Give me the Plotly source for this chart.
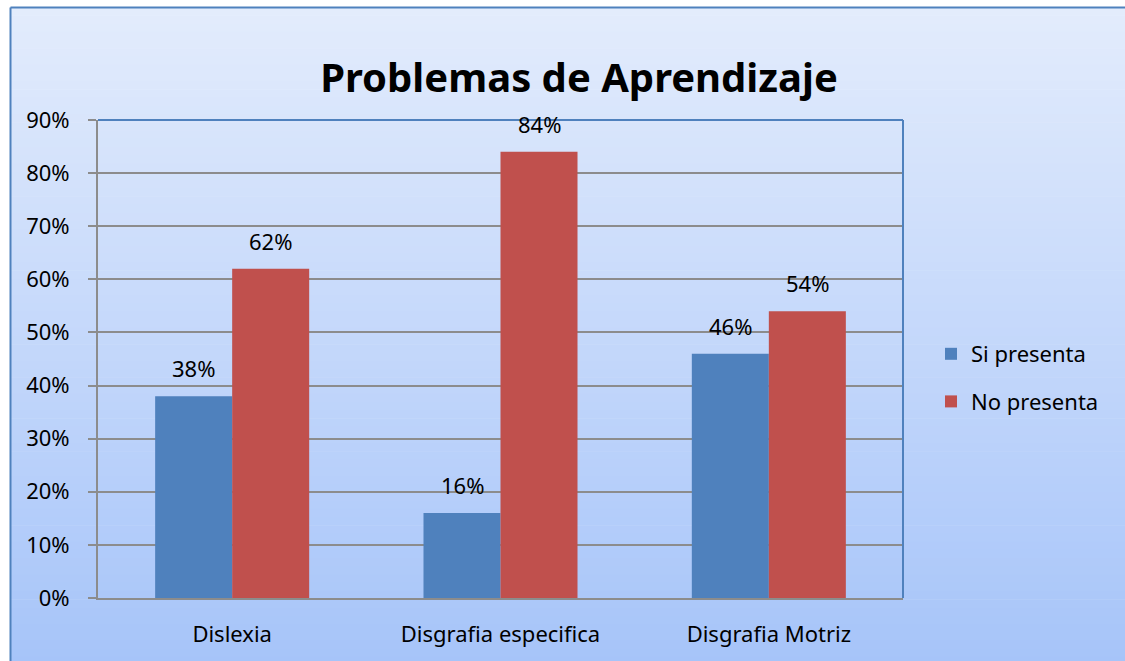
import plotly.graph_objects as go

categories = ["Dislexia", "Disgrafia especifica", "Disgrafia Motriz"]
si_presenta = [0.38, 0.16, 0.46]
no_presenta = [0.62, 0.84, 0.54]
series_names = ["Si presenta", "No presenta"]
colors = ["#4F81BD", "#C0504D"]
title = "Problemas de Aprendizaje"

FONT = "Noto Sans"
FS = 22

fig = go.Figure()
for name, vals, col in zip(series_names, [si_presenta, no_presenta], colors):
    fig.add_trace(go.Bar(x=categories, y=vals, name=name, marker_color=col,
                         marker_line_width=0, legendgroup=name))

# gradient background built from thin stacked rectangles
W, H = 1125, 661
ml, mr, mt, mb = 98, 222, 120, 63
pw, ph = W - ml - mr, H - mt - mb
def px_to_paper_x(px):
    return (px - ml) / pw
def px_to_paper_y(py):
    return (H - mb - py) / ph

top_col = (0xE3, 0xEC, 0xFC)
bot_col = (0xA6, 0xC4, 0xF9)
n = 80
y0p, y1p = 7, 665
shapes = []
for i in range(n):
    t = (i + 0.5) / n
    c = tuple(int(round(top_col[k] + (bot_col[k] - top_col[k]) * t)) for k in range(3))
    ya = y0p + (y1p - y0p) * i / n
    yb = y0p + (y1p - y0p) * (i + 1) / n + 0.6
    shapes.append(dict(type="rect", xref="paper", yref="paper",
                       x0=px_to_paper_x(10), x1=px_to_paper_x(1140),
                       y0=px_to_paper_y(yb), y1=px_to_paper_y(ya),
                       fillcolor="rgb(%d,%d,%d)" % c, line_width=0, layer="below"))
# chart border (top and left edges visible)
shapes.append(dict(type="line", xref="paper", yref="paper",
                   x0=px_to_paper_x(10.5), x1=px_to_paper_x(1140),
                   y0=px_to_paper_y(7.5), y1=px_to_paper_y(7.5),
                   line=dict(color="#4F81BD", width=2), layer="below"))
shapes.append(dict(type="line", xref="paper", yref="paper",
                   x0=px_to_paper_x(10.5), x1=px_to_paper_x(10.5),
                   y0=px_to_paper_y(7.5), y1=px_to_paper_y(670),
                   line=dict(color="#4F81BD", width=2), layer="below"))
# plot area top/right border
shapes.append(dict(type="line", xref="paper", yref="paper", x0=0, x1=1, y0=1, y1=1,
                   line=dict(color="#4F81BD", width=2)))
shapes.append(dict(type="line", xref="paper", yref="paper", x0=1, x1=1, y0=0, y1=1,
                   line=dict(color="#4F81BD", width=2)))

annotations = []
for vals, xs in [(si_presenta, -38.5), (no_presenta, 38.5)]:
    for c, v in zip(categories, vals):
        annotations.append(dict(x=c, y=v, text="%d%%" % round(v * 100), showarrow=False,
                                xshift=xs, yshift=28, yanchor="middle",
                                font=dict(family=FONT, size=FS, color="black")))

fig.update_layout(
    width=W, height=H,
    margin=dict(l=ml, r=mr, t=mt, b=mb, autoexpand=False),
    paper_bgcolor="white", plot_bgcolor="rgba(0,0,0,0)",
    title=dict(text="<b>%s</b>" % title, x=579 / W,
               xanchor="center", y=1 - 78 / H, yanchor="middle",
               font=dict(family=FONT, size=40, color="black")),
    barmode="group", bargap=0.426, bargroupgap=0,
    shapes=shapes, annotations=annotations,
    font=dict(family=FONT, size=FS, color="black"),
    legend=dict(x=px_to_paper_x(931), y=px_to_paper_y(378), xanchor="left", yanchor="middle",
                bgcolor="rgba(0,0,0,0)", font=dict(size=FS), tracegroupgap=16,
                traceorder="grouped", itemwidth=30),
    showlegend=True,
)
fig.update_yaxes(range=[0, 0.9], dtick=0.1, tickformat=".0%", showgrid=True,
                 gridcolor="#8C8C8C", gridwidth=1.5, showline=True, linecolor="#8C8C8C",
                 linewidth=2, ticks="outside", ticklen=8, tickcolor="#8C8C8C", tickwidth=1.5,
                 ticklabelstandoff=14, zeroline=False, fixedrange=True, automargin=False)
fig.update_xaxes(showline=True, linecolor="#8C8C8C", linewidth=2, ticks="",
                 ticklabelstandoff=16, fixedrange=True, automargin=False)

fig.write_html("out.html", config={"displayModeBar": False},
               post_script="document.body.style.margin='0';document.body.style.overflow='hidden';")
